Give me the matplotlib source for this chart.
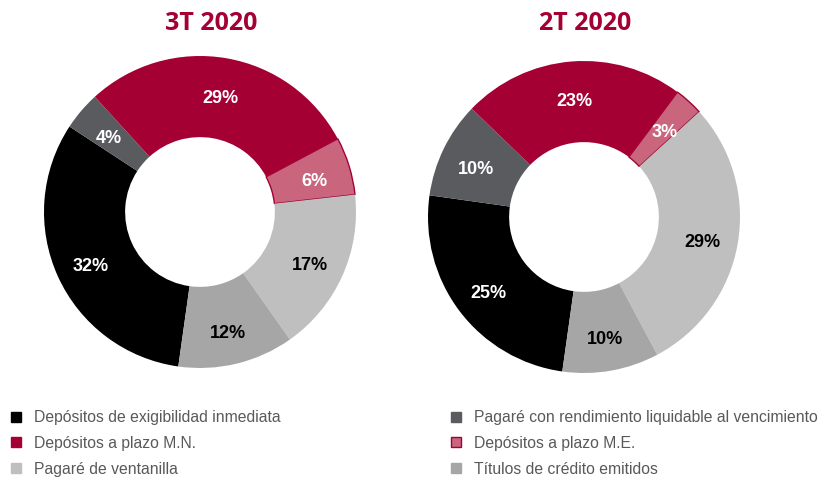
import matplotlib.pyplot as plt
from matplotlib.patches import Patch

categories = ['Depósitos de exigibilidad inmediata',
              'Pagaré con rendimiento liquidable al vencimiento',
              'Depósitos a plazo M.N.',
              'Depósitos a plazo M.E.',
              'Pagaré de ventanilla',
              'Títulos de crédito emitidos']
colors = ['#000000', '#595b5e', '#a50034', '#c9667e', '#bfbfbf', '#a6a6a6']
text_colors = ['white', 'white', 'white', 'white', 'black', 'black']

q3_2020 = [32, 4, 29, 6, 17, 12]
q2_2020 = [25, 10, 23, 3, 29, 10]
titles = ['3T 2020', '2T 2020']

plt.rcParams['font.family'] = ['Liberation Sans', 'DejaVu Sans']

W, H = 823, 479
fig = plt.figure(figsize=(W / 100, H / 100), dpi=100)

def donut(vals, title, cx, cy, r, tx):
    ax = fig.add_axes([(cx - r) / W, 1 - (cy + r) / H, 2 * r / W, 2 * r / H])
    wedges, _, autotexts = ax.pie(vals, colors=colors, startangle=262, counterclock=False,
                                  radius=1, autopct='%.0f%%', pctdistance=0.77,
                                  wedgeprops=dict(width=0.52, linewidth=0))
    wedges[3].set_edgecolor('#a50034')
    wedges[3].set_linewidth(1)
    for t, c in zip(autotexts, text_colors):
        t.set_color(c)
        t.set_fontsize(13)
        t.set_fontweight('bold')
        x, y = t.get_position()
        t.set_position((x, y - 0.03))
    ax.set_xlim(-1, 1)
    ax.set_ylim(-1, 1)
    ax.set_aspect('equal')
    ax.axis('off')
    fig.text(tx / W, 1 - 24 / H, title, ha='center', va='center', fontsize=18,
             fontweight='bold', color='#a50034', family=['Open Sans', 'DejaVu Sans'])

donut(q3_2020, titles[0], 200, 212, 156, 211)
donut(q2_2020, titles[1], 584, 217, 156, 585)

def handle(i):
    ec = '#a50034' if i == 3 else colors[i]
    return Patch(facecolor=colors[i], edgecolor=ec, linewidth=1)

for idx, x0 in [([0, 2, 4], 8), ([1, 3, 5], 448)]:
    fig.legend([handle(i) for i in idx], [categories[i] for i in idx],
               loc='upper left', bbox_to_anchor=(x0 / W, 1 - 407 / H),
               frameon=False, fontsize=11.3, labelcolor='#595959',
               handlelength=0.6, handleheight=0.6, handletextpad=0.85,
               labelspacing=0.69, borderaxespad=0, borderpad=0.2)

fig.savefig('out.png', dpi=100)
